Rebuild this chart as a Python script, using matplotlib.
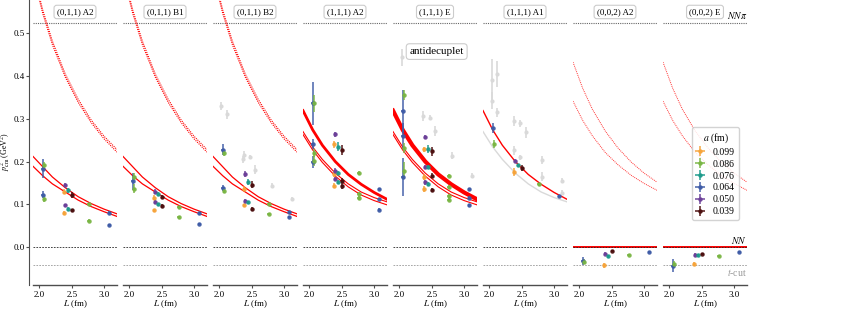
import matplotlib.pyplot as plt

plt.rcParams['font.family'] = ['Liberation Serif', 'DejaVu Serif']
plt.rcParams['mathtext.fontset'] = 'stix'
plt.rcParams['font.size'] = 7

titles = ["(0,1,1) A2", "(0,1,1) B1", "(0,1,1) B2", "(1,1,1) A2",
          "(1,1,1) E", "(1,1,1) A1", "(0,0,2) A2", "(0,0,2) E"]

spacings = ["0.099", "0.086", "0.076", "0.064", "0.050", "0.039"]
colors = {"0.099": "#f6a33a", "0.086": "#79b543", "0.076": "#1c9a8b",
          "0.064": "#3e5ba6", "0.050": "#6b3f98", "0.039": "#4b0e0e"}

nnpi = 0.523
tcut = -0.042

# levels: (a [fm], L [fm], p2_cm [GeV^2], error)
lev_011_A2 = [("0.064", 2.05, 0.183, 0.022), ("0.064", 2.05, 0.123, 0.008),
              ("0.086", 2.07, 0.192, 0.006), ("0.086", 2.07, 0.113, 0.008),
              ("0.099", 2.38, 0.130, 0.005), ("0.099", 2.38, 0.080, 0.004),
              ("0.050", 2.40, 0.145, 0.005), ("0.050", 2.40, 0.098, 0.004),
              ("0.076", 2.44, 0.133, 0.006), ("0.076", 2.44, 0.089, 0.005),
              ("0.039", 2.51, 0.121, 0.007), ("0.039", 2.51, 0.086, 0.004),
              ("0.086", 2.76, 0.101, 0.003), ("0.086", 2.76, 0.062, 0.003),
              ("0.064", 3.08, 0.081, 0.003), ("0.064", 3.08, 0.052, 0.003)]
lev_011_B1 = [("0.064", 2.05, 0.154, 0.020),
              ("0.086", 2.07, 0.165, 0.008), ("0.086", 2.07, 0.137, 0.010),
              ("0.099", 2.38, 0.116, 0.005), ("0.099", 2.38, 0.086, 0.004),
              ("0.050", 2.40, 0.130, 0.006), ("0.050", 2.40, 0.106, 0.006),
              ("0.076", 2.44, 0.124, 0.005), ("0.076", 2.44, 0.100, 0.004),
              ("0.039", 2.51, 0.117, 0.005), ("0.039", 2.51, 0.096, 0.004),
              ("0.086", 2.76, 0.093, 0.003), ("0.086", 2.76, 0.070, 0.003),
              ("0.064", 3.08, 0.079, 0.003), ("0.064", 3.08, 0.054, 0.003)]
lev_011_B2 = [("0.064", 2.05, 0.228, 0.012), ("0.064", 2.05, 0.139, 0.007),
              ("0.086", 2.07, 0.219, 0.006), ("0.086", 2.07, 0.131, 0.005),
              ("0.099", 2.38, 0.137, 0.006), ("0.099", 2.38, 0.098, 0.004),
              ("0.050", 2.40, 0.171, 0.006), ("0.050", 2.40, 0.108, 0.004),
              ("0.076", 2.44, 0.153, 0.007), ("0.076", 2.44, 0.105, 0.004),
              ("0.039", 2.51, 0.146, 0.008), ("0.039", 2.51, 0.090, 0.005),
              ("0.086", 2.76, 0.101, 0.003), ("0.086", 2.76, 0.078, 0.003),
              ("0.064", 3.08, 0.082, 0.003), ("0.064", 3.08, 0.071, 0.003)]
lev_111_A2 = [("0.064", 2.05, 0.336, 0.050), ("0.064", 2.05, 0.241, 0.012), ("0.064", 2.05, 0.199, 0.015),
              ("0.086", 2.07, 0.336, 0.020), ("0.086", 2.07, 0.220, 0.010), ("0.086", 2.07, 0.201, 0.012),
              ("0.099", 2.38, 0.240, 0.008), ("0.099", 2.38, 0.171, 0.006), ("0.099", 2.38, 0.144, 0.006),
              ("0.050", 2.40, 0.264, 0.006), ("0.050", 2.40, 0.179, 0.005), ("0.050", 2.40, 0.160, 0.005),
              ("0.076", 2.44, 0.235, 0.010), ("0.076", 2.44, 0.173, 0.004), ("0.076", 2.44, 0.152, 0.004),
              ("0.039", 2.51, 0.227, 0.012), ("0.039", 2.51, 0.155, 0.007), ("0.039", 2.51, 0.142, 0.006),
              ("0.086", 2.76, 0.173, 0.004), ("0.086", 2.76, 0.125, 0.004), ("0.086", 2.76, 0.115, 0.004),
              ("0.064", 3.08, 0.136, 0.003), ("0.064", 3.08, 0.113, 0.003), ("0.064", 3.08, 0.088, 0.003)]
lev_111_E = [("0.064", 2.05, 0.317, 0.050), ("0.064", 2.05, 0.260, 0.030), ("0.064", 2.05, 0.164, 0.045),
             ("0.086", 2.07, 0.356, 0.012), ("0.086", 2.07, 0.232, 0.012), ("0.086", 2.07, 0.179, 0.020),
             ("0.099", 2.38, 0.229, 0.006), ("0.099", 2.38, 0.164, 0.006), ("0.099", 2.38, 0.136, 0.008),
             ("0.050", 2.40, 0.257, 0.005), ("0.050", 2.40, 0.188, 0.005), ("0.050", 2.40, 0.152, 0.006),
             ("0.076", 2.44, 0.229, 0.010), ("0.076", 2.44, 0.187, 0.004), ("0.076", 2.44, 0.148, 0.004),
             ("0.039", 2.51, 0.224, 0.010), ("0.039", 2.51, 0.167, 0.006), ("0.039", 2.51, 0.133, 0.005),
             ("0.086", 2.76, 0.167, 0.004), ("0.086", 2.76, 0.141, 0.004), ("0.086", 2.76, 0.120, 0.004),
             ("0.086", 2.76, 0.111, 0.004),
             ("0.064", 3.08, 0.135, 0.003), ("0.064", 3.08, 0.116, 0.003), ("0.064", 3.08, 0.098, 0.003)]
lev_111_A1 = [("0.064", 2.05, 0.278, 0.012), ("0.086", 2.07, 0.241, 0.010),
              ("0.050", 2.40, 0.202, 0.004), ("0.076", 2.44, 0.191, 0.003),
              ("0.039", 2.51, 0.185, 0.006), ("0.099", 2.38, 0.176, 0.010),
              ("0.086", 2.76, 0.147, 0.003), ("0.064", 3.08, 0.120, 0.003)]
lev_002_A2 = [("0.064", 2.05, -0.032, 0.010), ("0.086", 2.07, -0.034, 0.006),
              ("0.099", 2.38, -0.042, 0.006), ("0.050", 2.40, -0.015, 0.003),
              ("0.076", 2.44, -0.021, 0.003), ("0.039", 2.51, -0.009, 0.003),
              ("0.086", 2.76, -0.017, 0.002), ("0.064", 3.08, -0.011, 0.002)]
lev_002_E = [("0.064", 2.05, -0.043, 0.015), ("0.086", 2.07, -0.038, 0.006),
             ("0.099", 2.38, -0.039, 0.004), ("0.050", 2.40, -0.018, 0.004),
             ("0.076", 2.44, -0.019, 0.003), ("0.039", 2.51, -0.015, 0.002),
             ("0.086", 2.76, -0.021, 0.002), ("0.064", 3.08, -0.011, 0.002)]

# grey (antidecuplet) levels: (L, p2, err)
grey_011_B2 = [(2.03, 0.330, 0.010), (2.11, 0.310, 0.010), (2.375, 0.216, 0.008),
               (2.36, 0.205, 0.008), (2.48, 0.210, 0.005), (2.55, 0.181, 0.010),
               (2.81, 0.144, 0.006), (3.12, 0.113, 0.005)]
grey_111_E = [(2.04, 0.443, 0.020), (2.36, 0.307, 0.012), (2.48, 0.302, 0.006),
              (2.55, 0.272, 0.012), (2.81, 0.214, 0.008), (3.13, 0.167, 0.006)]
grey_111_A1 = [(2.04, 0.390, 0.050), (2.12, 0.404, 0.030), (2.04, 0.342, 0.020),
               (2.12, 0.315, 0.010), (2.38, 0.295, 0.012), (2.48, 0.289, 0.008),
               (2.56, 0.268, 0.012), (2.38, 0.226, 0.010), (2.48, 0.210, 0.006),
               (2.82, 0.204, 0.010), (2.82, 0.165, 0.010), (3.13, 0.155, 0.006),
               (3.13, 0.127, 0.006)]

# non-interacting levels read along L
L_free = [1.9, 2.05, 2.2, 2.4, 2.6, 2.8, 3.0, 3.2]
free_011_hi = [0.212, 0.188, 0.164, 0.139, 0.118, 0.102, 0.089, 0.078]
free_011_lo = [0.189, 0.167, 0.148, 0.129, 0.110, 0.095, 0.083, 0.072]
free_011_up1 = [0.645, 0.554, 0.481, 0.404, 0.345, 0.297, 0.259, 0.228]
free_011_up2 = [0.637, 0.546, 0.473, 0.397, 0.338, 0.291, 0.253, 0.222]
free_111_main = [0.319, 0.274, 0.238, 0.200, 0.170, 0.147, 0.128, 0.112]
free_111_hi = [0.270, 0.234, 0.205, 0.173, 0.148, 0.129, 0.116, 0.106]
free_111_lo = [0.263, 0.227, 0.198, 0.166, 0.141, 0.122, 0.109, 0.099]
free_002_a = [0.432, 0.371, 0.322, 0.271, 0.231, 0.199, 0.173, 0.152]
free_002_b = [0.341, 0.296, 0.260, 0.221, 0.192, 0.168, 0.149, 0.133]

levels = [lev_011_A2, lev_011_B1, lev_011_B2, lev_111_A2,
          lev_111_E, lev_111_A1, lev_002_A2, lev_002_E]
greys = {2: grey_011_B2, 4: grey_111_E, 5: grey_111_A1}

fig = plt.figure(figsize=(8.47, 3.14), dpi=100)
W, H = 847, 314
axes = []
handles = {}
for k in range(8):
    ax = fig.add_axes([(33 + 90 * k) / W, (H - 285) / H, 84 / W, 285 / H])
    axes.append(ax)
    ax.set_xlim(1.9, 3.2)
    ax.set_ylim(-0.088, 0.577)
    for s in ['top', 'right']:
        ax.spines[s].set_visible(False)
    ax.spines['bottom'].set_color('0.3')
    ax.spines['bottom'].set_linewidth(1.0)
    ax.set_xticks([2.0, 2.5, 3.0])
    ax.tick_params(colors='0.3', labelcolor='black', length=2.5, width=0.8,
                   labelsize=6.5, pad=1.5)
    ax.set_xlabel("$L$ (fm)", fontsize=6.5, labelpad=0)
    if k == 0:
        ax.spines['left'].set_position(('outward', 3))
        ax.spines['left'].set_color('0.3')
        ax.set_yticks([0.0, 0.1, 0.2, 0.3, 0.4, 0.5])
        ax.tick_params(axis='y', length=2, pad=1)
        ax.set_ylabel(r"$p^2_{\rm cm}$ (GeV$^2$)", fontsize=5.8)
        ax.yaxis.set_label_coords(-0.245, 0.47)
    else:
        ax.spines['left'].set_visible(False)
        ax.set_yticks([])

    ax.axhline(nnpi, color='0.4', ls=(0, (1, 1)), lw=0.8, zorder=1)
    ax.axhline(tcut, color='0.6', ls=(0, (2, 1.5)), lw=0.6, zorder=1)
    if k >= 6:
        ax.axhline(0.0, color='red', lw=1.4, zorder=1)
    ax.axhline(0.0, color='0.15', ls=(0, (2, 1.5)), lw=0.6, zorder=1)

    # free levels
    if k <= 2:
        ax.plot(L_free, free_011_up1, color='red', ls=(0, (1, 1)), lw=0.8)
        ax.plot(L_free, free_011_up2, color='red', ls=(0, (1, 1)), lw=0.8)
        ax.plot(L_free, free_011_hi, color='red', lw=0.9)
        ax.plot(L_free, free_011_lo, color='red', lw=0.9)
    elif k in (3, 4):
        ax.plot(L_free, free_111_main, color='red', lw=2.0 if k == 3 else 3.0)
        ax.plot(L_free, free_111_hi, color='red', lw=0.8)
        ax.plot(L_free, free_111_lo, color='red', lw=0.8)
    elif k == 5:
        ax.plot(L_free, free_111_hi, color='0.85', lw=1.0)
        ax.plot(L_free, free_111_main, color='red', lw=1.0)
    else:
        ax.plot(L_free, free_002_a, color='red', ls=(0, (1, 1)), lw=0.7, alpha=0.8)
        ax.plot(L_free, free_002_b, color='red', ls=(0, (1, 1)), lw=0.7, alpha=0.8)

    if k in greys:
        for L, p2, e in greys[k]:
            ax.errorbar(L, p2, yerr=e, fmt='o', ms=3, mew=0, color='0.85',
                        elinewidth=1.2, zorder=2)

    for a, L, p2, e in levels[k]:
        h = ax.errorbar(L, p2, yerr=e, xerr=0.02, fmt='o', ms=3.2, mew=0,
                        color=colors[a], ecolor=colors[a], elinewidth=1.1,
                        zorder=3, alpha=0.95)
        handles.setdefault(a, h)

    ax.text(0.5, 0.958, titles[k], transform=ax.transAxes, ha='center', va='center',
            fontsize=6.5, bbox=dict(boxstyle='round,pad=0.3', fc='white', ec='0.8', lw=0.8),
            zorder=5)

axes[4].text(0.52, 0.819, "antidecuplet", transform=axes[4].transAxes, ha='center',
             va='center', fontsize=8,
             bbox=dict(boxstyle='round,pad=0.3', fc='white', ec='0.8', lw=0.8), zorder=5)

ax8 = axes[7]
ax8.text(3.2, nnpi + 0.006, r"$NN\pi$", ha='right', va='bottom', fontsize=7)
ax8.text(3.2, 0.004, r"$NN$", ha='right', va='bottom', fontsize=7)
ax8.text(3.2, tcut - 0.004, r"$t$-cut", ha='right', va='top', fontsize=7, color='0.6')

leg = ax8.legend([handles[a] for a in spacings], spacings, title="$a$ (fm)",
                 loc='upper right', bbox_to_anchor=(0.96, 0.57), fontsize=7,
                 title_fontsize=7, handlelength=0.8, handletextpad=0.9,
                 labelspacing=0.3, borderpad=0.4, framealpha=0.85, edgecolor='0.8')
leg.set_zorder(10)

fig.savefig("out.png", dpi=100)
